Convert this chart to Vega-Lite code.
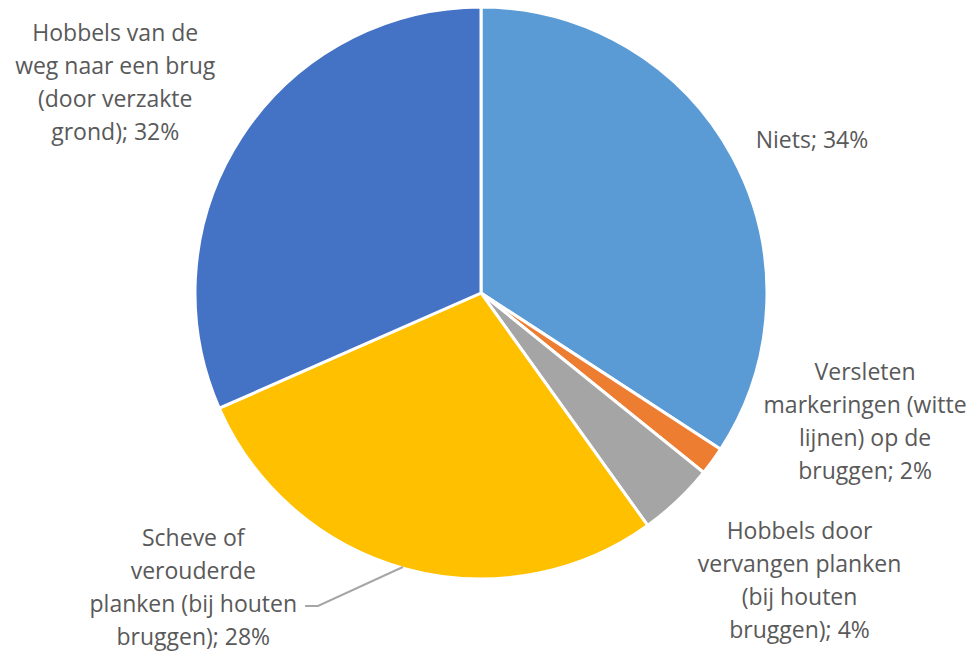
{
  "$schema": "https://vega.github.io/schema/vega-lite/v6.json",
  "width": 962,
  "height": 586,
  "autosize": {"type": "none"},
  "padding": {"left": 0, "top": 0, "right": 12, "bottom": 65},
  "background": "white",
  "config": {"view": {"stroke": null}},
  "datasets": {
    "slices": [
      {"category": "Niets", "rank": 1, "value": 34.2, "label": "Niets; 34%"},
      {"category": "Versleten markeringen", "rank": 2, "value": 1.6, "label": "Versleten\nmarkeringen (witte\nlijnen) op de\nbruggen; 2%"},
      {"category": "Hobbels door vervangen planken", "rank": 3, "value": 4.3, "label": "Hobbels door\nvervangen planken\n(bij houten\nbruggen); 4%"},
      {"category": "Scheve of verouderde planken", "rank": 4, "value": 28.3, "label": "Scheve of\nverouderde\nplanken (bij houten\nbruggen); 28%"},
      {"category": "Hobbels van de weg naar een brug", "rank": 5, "value": 31.6, "label": "Hobbels van de\nweg naar een brug\n(door verzakte\ngrond); 32%"}
    ],
    "leader": [
      {"x": -0.615, "y": -1.094},
      {"x": -0.570, "y": -1.094},
      {"x": -0.273, "y": -0.958}
    ]
  },
  "layer": [
    {
      "data": {"name": "slices"},
      "mark": {"type": "arc", "radius": 286, "stroke": "white", "strokeWidth": 3},
      "encoding": {
        "theta": {"field": "value", "type": "quantitative", "stack": true},
        "order": {"field": "rank", "type": "quantitative"},
        "color": {
          "field": "category",
          "type": "nominal",
          "scale": {
            "domain": ["Niets", "Versleten markeringen", "Hobbels door vervangen planken", "Scheve of verouderde planken", "Hobbels van de weg naar een brug"],
            "range": ["#5B9BD5", "#ED7D31", "#A5A5A5", "#FFC000", "#4472C4"]
          },
          "legend": null
        }
      }
    },
    {
      "data": {"name": "slices"},
      "mark": {
        "type": "text",
        "radius": 340,
        "dx": {"expr": "[32,109,85,-198,-81][datum.rank-1]"},
        "dy": {"expr": "[10,-120,-8,-82,-73][datum.rank-1]"},
        "font": "Open Sans",
        "fontSize": 23,
        "fill": "#595959",
        "lineBreak": "\n",
        "lineHeight": 33,
        "align": "center",
        "baseline": "middle"
      },
      "encoding": {
        "theta": {"field": "value", "type": "quantitative", "stack": true},
        "order": {"field": "rank", "type": "quantitative"},
        "text": {"field": "label", "type": "nominal"}
      }
    },
    {
      "data": {"name": "leader"},
      "mark": {"type": "line", "color": "#A6A6A6", "strokeWidth": 2, "clip": false},
      "encoding": {
        "x": {"field": "x", "type": "quantitative", "scale": {"domain": [-1.6818, 1.6818], "nice": false, "zero": false}, "axis": null},
        "y": {"field": "y", "type": "quantitative", "scale": {"domain": [-1.02448, 1.02448], "nice": false, "zero": false}, "axis": null}
      }
    }
  ]
}
